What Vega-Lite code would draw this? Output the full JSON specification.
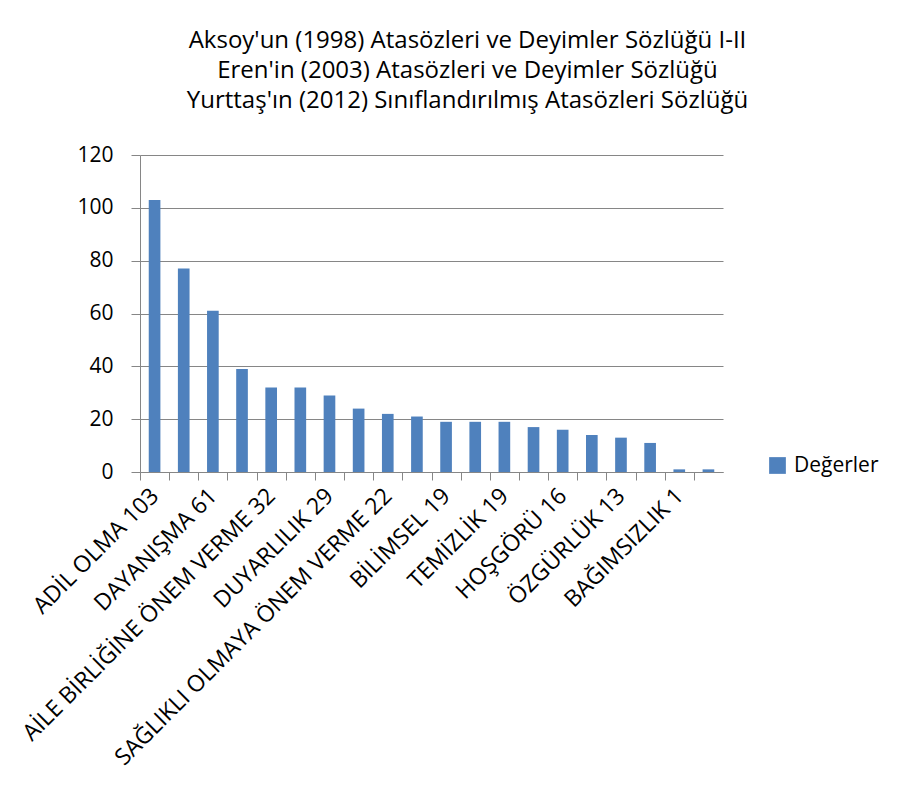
{
  "$schema": "https://vega.github.io/schema/vega-lite/v6.json",
  "width": 583,
  "height": 317,
  "autosize": {"type": "none"},
  "padding": {"left": 140, "top": 155, "right": 180, "bottom": 331},
  "background": "white",
  "title": {
    "text": ["Aksoy'un (1998) Atasözleri ve Deyimler Sözlüğü I-II", "Eren'in (2003) Atasözleri ve Deyimler Sözlüğü", "Yurttaş'ın (2012) Sınıflandırılmış Atasözleri Sözlüğü"],
    "anchor": "middle",
    "frame": "group",
    "dx": 36,
    "offset": 31,
    "font": "Open Sans",
    "fontSize": 24,
    "fontWeight": "normal",
    "color": "#000000",
    "lineHeight": 30
  },
  "data": {
    "values": [
      {"kategori": "ADİL OLMA 103", "deger": 103},
      {"kategori": "(2) 77", "deger": 77},
      {"kategori": "DAYANIŞMA 61", "deger": 61},
      {"kategori": "(4) 39", "deger": 39},
      {"kategori": "AİLE BİRLİĞİNE ÖNEM VERME 32", "deger": 32},
      {"kategori": "(6) 32", "deger": 32},
      {"kategori": "DUYARLILIK 29", "deger": 29},
      {"kategori": "(8) 24", "deger": 24},
      {"kategori": "SAĞLIKLI OLMAYA ÖNEM VERME 22", "deger": 22},
      {"kategori": "(10) 21", "deger": 21},
      {"kategori": "BİLİMSEL 19", "deger": 19},
      {"kategori": "(12) 19", "deger": 19},
      {"kategori": "TEMİZLİK 19", "deger": 19},
      {"kategori": "(14) 17", "deger": 17},
      {"kategori": "HOŞGÖRÜ 16", "deger": 16},
      {"kategori": "(16) 14", "deger": 14},
      {"kategori": "ÖZGÜRLÜK 13", "deger": 13},
      {"kategori": "(18) 11", "deger": 11},
      {"kategori": "BAĞIMSIZLIK 1", "deger": 1},
      {"kategori": "(20) 1", "deger": 1}
    ]
  },
  "mark": {"type": "bar"},
  "encoding": {
    "x": {
      "field": "kategori",
      "type": "nominal",
      "sort": null,
      "scale": {"paddingInner": 0.6, "paddingOuter": 0.3},
      "axis": {
        "title": null,
        "tickOffset": -14.575,
        "labelOffset": 14.575,
        "labelAngle": -45,
        "labelAlign": "right",
        "labelBaseline": "middle",
        "labelPadding": 12,
        "labelExpr": "indexof(datum.value, '(') == 0 ? '' : datum.label",
        "labelFont": "Open Sans",
        "labelFontSize": 23,
        "labelColor": "#000000",
        "labelLimit": 0,
        "labelOverlap": false,
        "tickSize": 8,
        "tickColor": "#868686",
        "domainColor": "#868686",
        "grid": false
      }
    },
    "y": {
      "field": "deger",
      "type": "quantitative",
      "scale": {"domain": [0, 120], "nice": false},
      "axis": {
        "title": null,
        "values": [0, 20, 40, 60, 80, 100, 120],
        "grid": true,
        "gridColor": "#868686",
        "tickColor": "#868686",
        "domainColor": "#868686",
        "tickSize": 9,
        "labelPadding": 18,
        "labelFont": "Open Sans",
        "labelFontSize": 21,
        "labelColor": "#000000"
      }
    },
    "color": {
      "datum": "Değerler",
      "type": "nominal",
      "scale": {"range": ["#4F81BD"]},
      "legend": {
        "title": null,
        "orient": "none",
        "legendX": 627,
        "legendY": 300,
        "symbolType": "square",
        "symbolSize": 280,
        "symbolStrokeWidth": 0,
        "labelFont": "Open Sans",
        "labelFontSize": 21,
        "labelColor": "#000000",
        "labelOffset": 6
      }
    }
  },
  "config": {"view": {"stroke": null}}
}
